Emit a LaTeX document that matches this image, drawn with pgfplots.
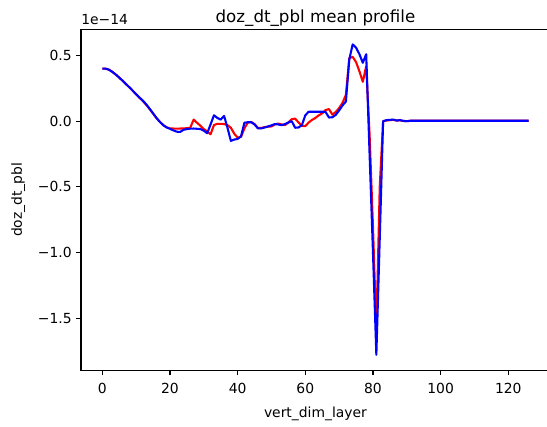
\documentclass[border=0pt]{standalone}
\usepackage{fontspec}
\setmainfont{DejaVu Sans}
\usepackage{pgfplots}
\usepackage{pgfplotstable}
\pgfplotsset{compat=1.18}

% values in units of 1e-14
\pgfplotstableread{
i red blue
0 0.400 0.400
1 0.400 0.400
2 0.392 0.392
3 0.375 0.375
4 0.355 0.355
5 0.332 0.332
6 0.308 0.308
7 0.283 0.283
8 0.258 0.258
9 0.232 0.232
10 0.205 0.205
11 0.178 0.180
12 0.153 0.156
13 0.124 0.128
14 0.092 0.095
15 0.058 0.060
16 0.024 0.025
17 -0.005 -0.005
18 -0.030 -0.030
19 -0.046 -0.048
20 -0.055 -0.058
21 -0.056 -0.070
22 -0.057 -0.080
23 -0.056 -0.082
24 -0.056 -0.066
25 -0.053 -0.060
26 -0.050 -0.057
27 0.012 -0.056
28 -0.012 -0.058
29 -0.035 -0.060
30 -0.060 -0.072
31 -0.078 -0.092
32 -0.100 -0.025
33 -0.030 0.045
34 -0.020 0.025
35 -0.020 0.012
36 -0.022 0.040
37 -0.030 -0.050
38 -0.050 -0.150
39 -0.095 -0.140
40 -0.125 -0.135
41 -0.120 -0.115
42 -0.055 -0.012
43 -0.010 -0.008
44 -0.006 -0.008
45 -0.022 -0.025
46 -0.052 -0.055
47 -0.052 -0.055
48 -0.045 -0.048
49 -0.042 -0.040
50 -0.040 -0.032
51 -0.025 -0.022
52 -0.018 -0.025
53 -0.025 -0.030
54 -0.030 -0.022
55 -0.010 -0.010
56 0.015 0.000
57 0.020 -0.050
58 -0.010 -0.048
59 -0.035 -0.030
60 -0.038 0.045
61 -0.010 0.072
62 0.010 0.072
63 0.025 0.072
64 0.045 0.072
65 0.060 0.072
66 0.085 0.070
67 0.092 0.028
68 0.050 0.030
69 0.070 0.048
70 0.100 0.082
71 0.140 0.120
72 0.200 0.150
73 0.480 0.470
74 0.490 0.585
75 0.450 0.560
76 0.380 0.510
77 0.300 0.445
78 0.420 0.510
79 -0.100 -0.250
80 -0.800 -1.000
81 -1.600 -1.780
82 -0.500 -0.900
83 0.000 0.000
84 0.005 0.008
85 0.008 0.010
86 0.010 0.012
87 0.005 0.005
88 0.006 0.008
89 0.002 0.002
90 0.000 0.000
91 0.003 0.003
92 0.003 0.003
93 0.003 0.003
94 0.003 0.003
95 0.003 0.003
96 0.003 0.003
97 0.003 0.003
98 0.003 0.003
99 0.003 0.003
100 0.003 0.003
101 0.003 0.003
102 0.003 0.003
103 0.003 0.003
104 0.003 0.003
105 0.003 0.003
106 0.003 0.003
107 0.003 0.003
108 0.003 0.003
109 0.003 0.003
110 0.003 0.003
111 0.003 0.003
112 0.003 0.003
113 0.003 0.003
114 0.003 0.003
115 0.003 0.003
116 0.003 0.003
117 0.003 0.003
118 0.003 0.003
119 0.003 0.003
120 0.003 0.003
121 0.003 0.003
122 0.003 0.003
123 0.003 0.003
124 0.003 0.003
125 0.003 0.003
126 0.003 0.003
}\profile

\begin{document}
\begin{tikzpicture}
\begin{axis}[
    at={(0,0)}, anchor=south west,
    scale only axis,
    width=337.6pt, height=245.5pt,
    xmin=-6.3, xmax=132.3,
    ymin=-1.898, ymax=0.70,
    axis line style={line width=0.8pt},
    tick align=outside,
    xtick pos=left, ytick pos=left,
    major tick length=3.5pt,
    tick style={black, line width=0.8pt},
    xtick={0,20,40,60,80,100,120},
    xticklabels={0,20,40,60,80,100,120},
    ytick={-1.5,-1,-0.5,0,0.5},
    yticklabels={−1.5,−1.0,−0.5,0.0,0.5},
    tick label style={font=\fontsize{10}{12}\selectfont},
    xticklabel style={anchor=base, yshift=-13pt},
    yticklabel style={anchor=east, xshift=0.3pt},
    xlabel={vert\_dim\_layer},
    ylabel={doz\_dt\_pbl},
    label style={font=\fontsize{10}{12}\selectfont},
    xlabel style={at={(axis description cs:0.5,-0.1396)}, anchor=base},
    ylabel style={at={(axis description cs:-0.1337,0.5)}, anchor=center},
    title={doz\_dt\_pbl mean profile},
    title style={font=\fontsize{12}{14}\selectfont, at={(axis description cs:0.5,1)}, anchor=base, yshift=-1pt},
    clip=false,
]
\addplot[red, line width=1.5pt, line join=round] table[x=i, y=red] {\profile};
\addplot[blue, line width=1.5pt, line join=round] table[x=i, y=blue] {\profile};
\node[anchor=base west, inner sep=0pt, font=\fontsize{10}{12}\selectfont] at (rel axis cs:0,1) [yshift=3.1pt] {1e−14};
\end{axis}
\pgfresetboundingbox
\path[use as bounding box] (-58.3pt,-40.3pt) rectangle (335.5pt,266.6pt);
\end{tikzpicture}
\end{document}
